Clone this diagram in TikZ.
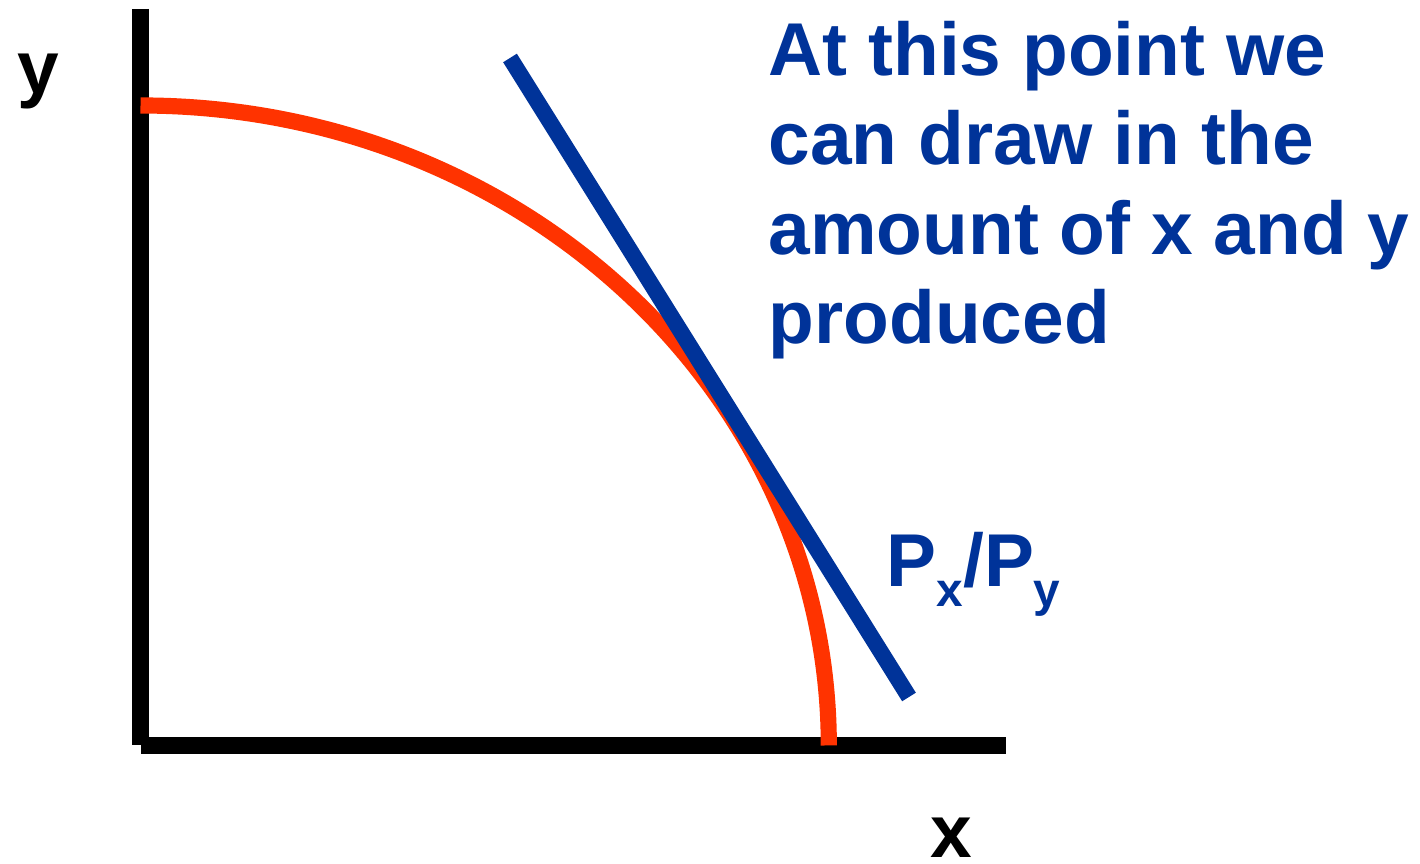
\documentclass[tikz,border=0pt]{standalone}
\usepackage{fontspec}
\setmainfont{Liberation Sans}
\definecolor{ppfblue}{HTML}{003399}
\definecolor{ppfred}{HTML}{FF3300}
\begin{document}
\begin{tikzpicture}[every node/.style={font=\bfseries\fontsize{21.3}{25.5}\selectfont, inner sep=0pt}]
  \useasboundingbox (0,0) rectangle (14.2,8.64);
  \coordinate (O) at (1.405,1.185);
  \draw[line width=4.6pt] (1.405,8.55) -- (O);
  \draw[line width=4.7pt] (1.41,1.185) -- (10.06,1.185);
  \draw[ppfred,line width=4.6pt] (1.405,7.585) arc[start angle=90, end angle=0, x radius=6.883, y radius=6.4];
  \draw[ppfblue,line width=4.6pt] (5.10,8.06) -- (9.09,1.67);
  \node[anchor=base west] (ylab) at (0.17,7.70) {y};
  \node[anchor=base west] (xlab) at (9.30,0.06) {x};
  \node[ppfblue,anchor=base west] (ratio) at (8.86,2.77) {P\raisebox{-5.5pt}{\fontsize{13.6}{14}\selectfont x}/P\raisebox{-5.5pt}{\fontsize{13.6}{14}\selectfont y}};
  \node[ppfblue,anchor=base west,align=left] (note) at (7.68,5.20) {At this point we\\can draw in the\\amount of x and y\\produced};
\end{tikzpicture}
\end{document}
